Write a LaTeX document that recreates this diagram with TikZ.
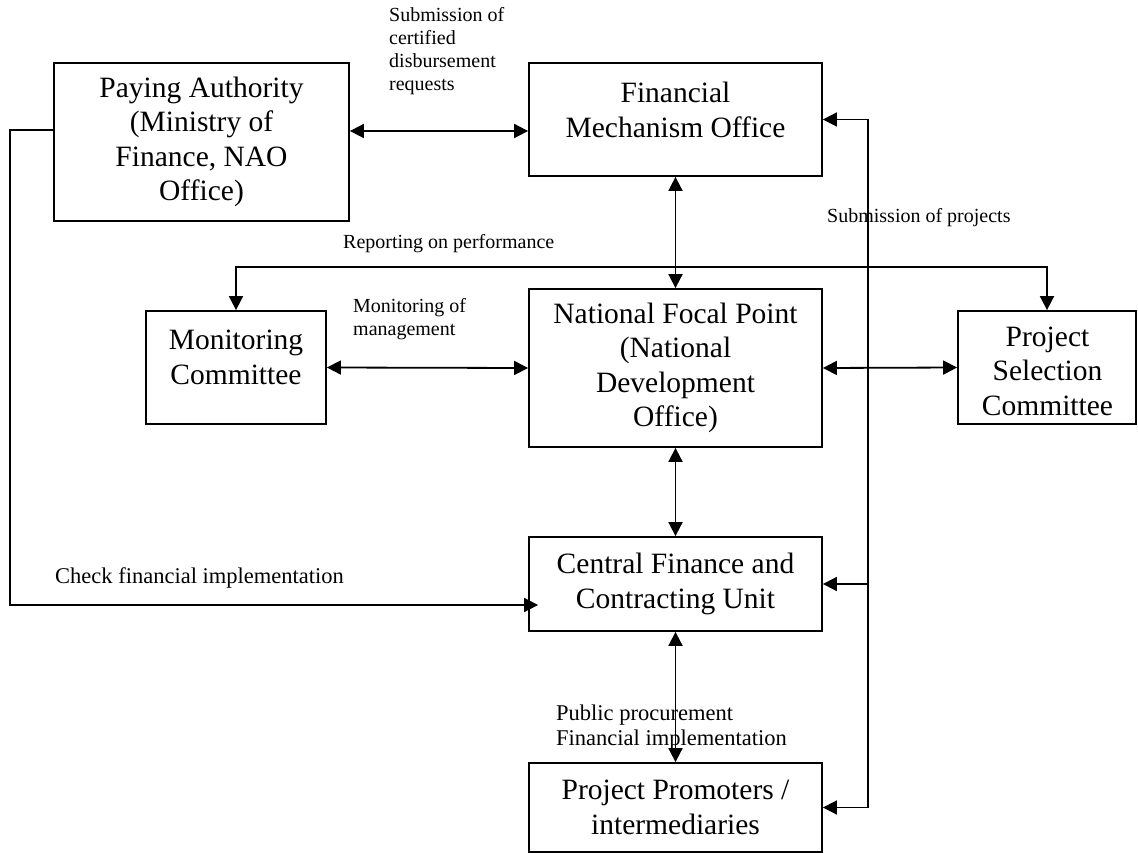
\documentclass[tikz,border=0pt]{standalone}
\usepackage{fontspec}
\setmainfont{Liberation Serif}
\usetikzlibrary{arrows.meta}
\begin{document}
\begin{tikzpicture}[x=1pt,y=-1pt,
  box/.style={draw, line width=1.8pt, inner sep=0pt, align=center,
    font=\fontsize{29.5}{34.5}\selectfont},
  boxtext/.style={inner sep=0pt, align=center, font=\fontsize{29.5}{34.5}\selectfont},
  lbl/.style={inner sep=0pt, align=left, anchor=west, font=\fontsize{20}{23}\selectfont},
  lblbig/.style={inner sep=0pt, align=left, anchor=west, font=\fontsize{22.5}{25.5}\selectfont},
  conn/.style={line width=1.8pt},
  tip/.style={-{Triangle[length=14pt,width=14pt]}},
  bitip/.style={{Triangle[length=14pt,width=14pt]}-{Triangle[length=14pt,width=14pt]}}
]
\useasboundingbox (0,0) rectangle (1138,853);

% boxes
\node[box, minimum width=295pt, minimum height=158pt] (pa) at (201.5,142)
  {Paying Authority\\(Ministry of\\Finance, NAO\\Office)};
\node[box, minimum width=293pt, minimum height=113pt] (fmo) at (675.5,119.5) {};
\node[boxtext] (fmot) at (675.5,110) {Financial\\Mechanism Office};
\node[box, minimum width=180pt, minimum height=113pt] (mc) at (236,367.5) {};
\node[boxtext] (mct) at (236,357.5) {Monitoring\\Committee};
\node[box, minimum width=293pt, minimum height=158pt] (nfp) at (675.5,368)
  {National Focal Point\\(National\\Development\\Office)};
\node[box, minimum width=178pt, minimum height=113pt] (psc) at (1047,367.5) {};
\node[boxtext] (psct) at (1047.5,371) {Project\\Selection\\Committee};
\node[box, minimum width=293pt, minimum height=94pt] (cfcu) at (675.5,584)
  {Central Finance and\\Contracting Unit};
\node[box, minimum width=293pt, minimum height=89pt] (pp) at (675.5,807.5)
  {Project Promoters /\\intermediaries};

% junction coordinates
\coordinate (rp) at (675.5,267);
\coordinate (sp) at (868,368);
\coordinate (lc) at (10,605);

% connectors
\draw[conn, bitip] (pa.east |- 0,131) -- (fmo.west |- 0,131);
\draw[conn, bitip] (fmo.south) -- (nfp.north);
\draw[conn, tip] (rp) -| (mc.north);
\draw[conn, tip] (rp) -| (psc.north);
\draw[conn, bitip] (mc.east) -- (nfp.west);
\draw[conn, bitip] (nfp.east) -- (psc.west);
\draw[conn, tip] (sp) |- (fmo.east);
\draw[conn, tip] (sp) |- (cfcu.east);
\draw[conn, tip] (sp) |- (pp.east);
\draw[conn, bitip] (nfp.south) -- (cfcu.north);
\draw[conn, bitip] (cfcu.south) -- (pp.north);
\draw[conn, tip] (pa.west |- 0,130) -| (lc) -- ([xshift=10pt]cfcu.west |- lc);

% labels
\node[lbl] (l1) at (389,51) {Submission of\\certified\\disbursement\\requests};
\node[lbl] (l2) at (343,244) {Reporting on performance};
\node[lbl] (l3) at (353,319.5) {Monitoring of\\management};
\node[lbl] (l4) at (827,218) {Submission of projects};
\node[lblbig] (l5) at (55,578) {Check financial implementation};
\node[lblbig] (l6) at (556,727.5) {Public procurement\\Financial implementation};
\end{tikzpicture}
\end{document}
